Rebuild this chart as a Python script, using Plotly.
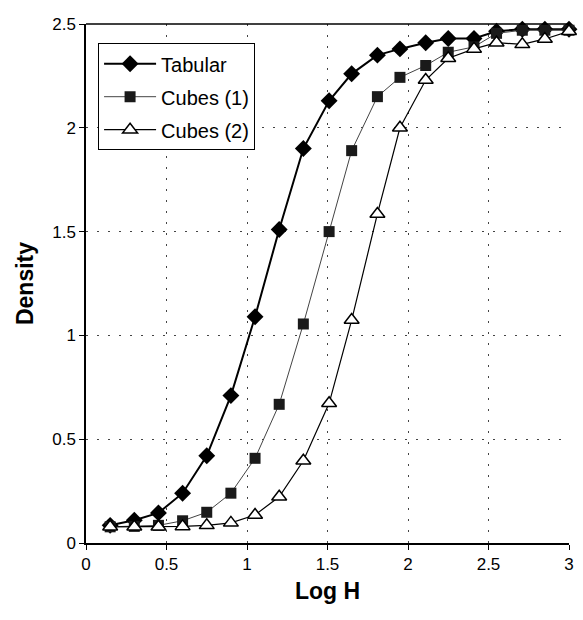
import plotly.graph_objects as go

log_h = [0.15, 0.30, 0.45, 0.60, 0.75, 0.90, 1.05, 1.20, 1.35, 1.51,
         1.65, 1.81, 1.95, 2.11, 2.25, 2.41, 2.55, 2.71, 2.85, 3.00]

tabular = [0.085, 0.11, 0.145, 0.24, 0.42, 0.71, 1.09, 1.51, 1.90, 2.13,
           2.26, 2.35, 2.38, 2.41, 2.43, 2.43, 2.465, 2.475, 2.475, 2.475]
cubes1 = [0.078, 0.08, 0.085, 0.107, 0.148, 0.24, 0.408, 0.668, 1.055, 1.50,
          1.89, 2.15, 2.243, 2.30, 2.364, 2.39, 2.455, 2.47, 2.47, 2.47]
cubes2 = [0.078, 0.078, 0.078, 0.08, 0.085, 0.097, 0.135, 0.223, 0.396, 0.673,
          1.074, 1.585, 2.00, 2.23, 2.335, 2.38, 2.41, 2.402, 2.428, 2.465]

x_ticks = [0, 0.5, 1, 1.5, 2, 2.5, 3]
x_labels = ["0", "0.5", "1", "1.5", "2", "2.5", "3"]
y_ticks = [0, 0.5, 1, 1.5, 2, 2.5]
y_labels = ["0", "0.5", "1", "1.5", "2", "2.5"]

fig = go.Figure()
fig.add_trace(go.Scatter(
    x=log_h, y=tabular, name="Tabular", mode="lines+markers", legendgroup="a",
    line=dict(color="black", width=2),
    marker=dict(symbol="diamond", size=13, color="black"),
    cliponaxis=False))
fig.add_trace(go.Scatter(
    x=log_h, y=cubes1, name="Cubes (1)", mode="lines+markers", legendgroup="b",
    line=dict(color="#444444", width=1),
    marker=dict(symbol="square", size=11, color="#1a1a1a"),
    cliponaxis=False))
fig.add_trace(go.Scatter(
    x=log_h, y=cubes2, name="Cubes (2)", mode="lines+markers", legendgroup="c",
    line=dict(color="black", width=1.2),
    marker=dict(symbol="triangle-up", size=13, color="white",
                line=dict(color="black", width=1.5)),
    cliponaxis=False))

grid = dict(showgrid=True, gridcolor="#444444", griddash="2px,9px", gridwidth=1)

fig.update_layout(
    width=583, height=620,
    margin=dict(l=86, r=14, t=24, b=77, autoexpand=False),
    paper_bgcolor="white", plot_bgcolor="white",
    font=dict(family="Liberation Sans, Arial, sans-serif", size=17, color="black"),
    showlegend=True,
    legend=dict(x=0.025, y=0.963, xanchor="left", yanchor="top",
                bordercolor="black", borderwidth=1, bgcolor="white",
                font=dict(size=20), traceorder="grouped", tracegroupgap=4,
                itemwidth=52),
    xaxis=dict(range=[0, 3], tickvals=x_ticks, ticktext=x_labels,
               showline=True, linecolor="black", linewidth=1.5,
               ticks="outside", ticklen=5, tickcolor="black",
               zeroline=False, automargin=False, **grid,
               title=dict(text="<b>Log H</b>", font=dict(size=23), standoff=10)),
    yaxis=dict(range=[0, 2.5], tickvals=y_ticks, ticktext=y_labels,
               showline=True, linecolor="black", linewidth=1.5,
               ticks="outside", ticklen=5, tickcolor="black",
               zeroline=False, automargin=False, **grid,
               title=dict(text="<b>Density</b>", font=dict(size=23), standoff=12)),
)
# top border line at y=2.5 (solid) as in reference
fig.add_shape(type="line", xref="paper", yref="paper", x0=0, x1=1, y0=1, y1=1,
              line=dict(color="black", width=1.5))

fig.write_html("out.html", config={"displayModeBar": False},
               post_script="document.body.style.margin='0px';document.body.style.overflow='hidden';")
